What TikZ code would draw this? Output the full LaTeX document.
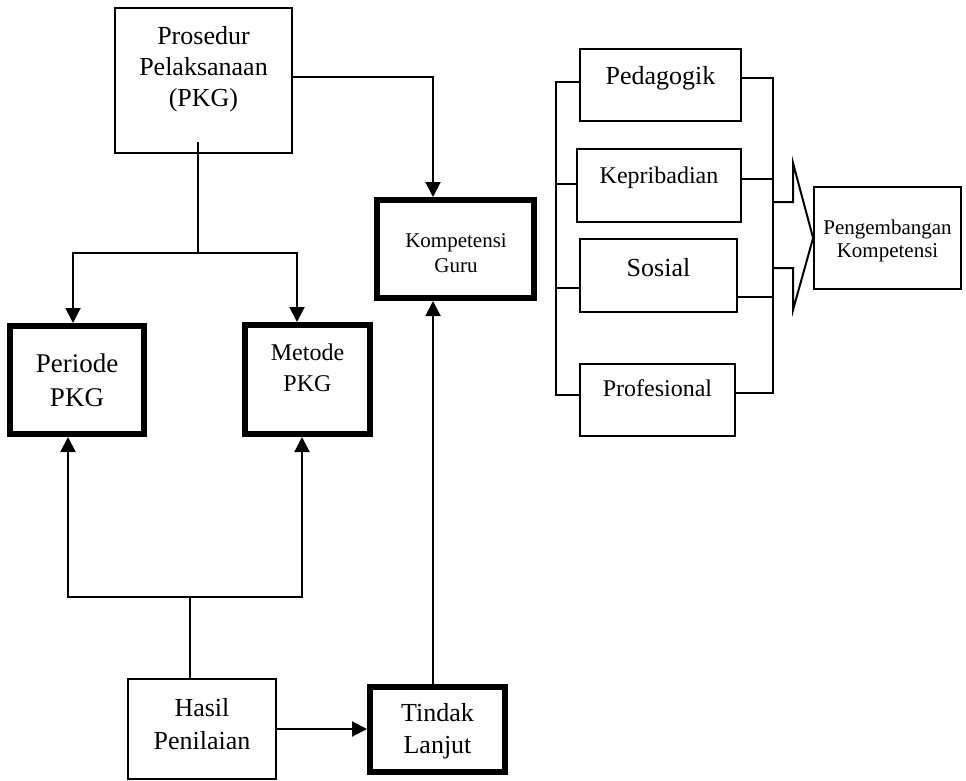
\documentclass[tikz,border=0pt]{standalone}
\usepackage{fontspec}
\setmainfont{Liberation Serif}
\usetikzlibrary{arrows.meta}
\begin{document}
\begin{tikzpicture}[x=1pt,y=-1pt,
  thinbox/.style={draw, line width=1.8pt, outer sep=0.9pt, inner sep=0pt, align=center},
  thickbox/.style={draw, line width=6pt, outer sep=3pt, inner sep=0pt, align=center},
  lbl/.style={inner sep=0pt, align=center},
  conn/.style={line width=2pt},
  arr/.style={line width=2pt, -{Triangle[length=15pt,width=15pt]}},
  fs/.style 2 args={font=\fontsize{#1}{#2}\selectfont}
]
\useasboundingbox (0,0) rectangle (966,781);

% left part
\node[thinbox, minimum width=177, minimum height=145] (pros) at (203.5,80.5) {};
\node[lbl, fs={26}{31}] (prost) at (203.5,69) {Prosedur\\Pelaksanaan\\(PKG)};

\node[thickbox, minimum width=134, minimum height=108, fs={27}{34}] (per) at (77,380) {Periode\\PKG};
\node[thickbox, minimum width=125, minimum height=109] (met) at (307.5,379.5) {};
\node[lbl, fs={24}{31}] (mett) at (307.5,368) {Metode\\PKG};

\node[thickbox, minimum width=157, minimum height=98] (komp) at (455.5,249) {};
\node[lbl, fs={21}{25}] (kompt) at (456,253) {Kompetensi\\Guru};

\node[thinbox, minimum width=148, minimum height=100] (has) at (202,729) {};
\node[lbl, fs={26}{33}] (hast) at (202,724) {Hasil\\Penilaian};
\node[thickbox, minimum width=135, minimum height=85] (tin) at (437.5,729.5) {};
\node[lbl, fs={26}{32}] (tint) at (437.5,731) {Tindak\\Lanjut};

% right part
\node[thinbox, minimum width=161, minimum height=72] (ped) at (660.5,85) {};
\node[lbl, fs={26}{30}] (pedt) at (660.5,78) {Pedagogik};
\node[thinbox, minimum width=164, minimum height=73] (kep) at (659,185.5) {};
\node[lbl, fs={24}{28}] (kept) at (659,178) {Kepribadian};
\node[thinbox, minimum width=157, minimum height=73] (sos) at (658.5,275.5) {};
\node[lbl, fs={26}{30}] (sost) at (658.5,268) {Sosial};
\node[thinbox, minimum width=155, minimum height=72] (pro) at (657.5,400) {};
\node[lbl, fs={24}{28}] (prot) at (657.5,388) {Profesional};

\node[thinbox, minimum width=147, minimum height=102] (peng) at (887.5,238) {};
\node[lbl, fs={21}{23}] (pengt) at (887.5,241) {Pengembangan\\Kompetensi};

% connectors, left part
\coordinate (c1) at (433,77);
\draw[arr] (pros.east |- c1) -- (c1) -- (c1 |- komp.north);

\coordinate (ps) at (198,142);
\coordinate (j1) at (198,253);
\coordinate (j1l) at (73,253);
\coordinate (j1r) at (297,253);
\draw[conn] (ps) -- (j1);
\draw[arr] (j1) -- (j1l) -- (j1l |- per.north);
\draw[arr] (j1) -- (j1r) -- (j1r |- met.north);

\coordinate (j2) at (190,597);
\coordinate (j2l) at (68,597);
\coordinate (j2r) at (302,597);
\draw[conn] (j2 |- has.north) -- (j2);
\draw[arr] (j2) -- (j2l) -- (j2l |- per.south);
\draw[arr] (j2) -- (j2r) -- (j2r |- met.south);

\draw[arr] (has.east) -- (has.east -| tin.west);
\coordinate (c2) at (433,700);
\draw[arr] (c2 |- tin.north) -- (c2 |- komp.south);

% brackets, right part
\draw[conn] (ped.west |- 0,82) -- (556,82) -- (556,395) -- (pro.west |- 0,395);
\draw[conn] (556,184) -- (kep.west |- 0,184);
\draw[conn] (556,288) -- (sos.west |- 0,288);

\draw[conn] (ped.east |- 0,78) -- (773,78) -- (773,393) -- (pro.east |- 0,393);
\draw[conn] (kep.east |- 0,179) -- (773,179);
\draw[conn] (sos.east |- 0,297) -- (773,297);

% big arrow into Pengembangan
\draw[conn, line join=miter] (773,202) -- (793,202) -- (793,163) -- (peng.west) -- (793,310) -- (793,268) -- (773,268);
\end{tikzpicture}
\end{document}
